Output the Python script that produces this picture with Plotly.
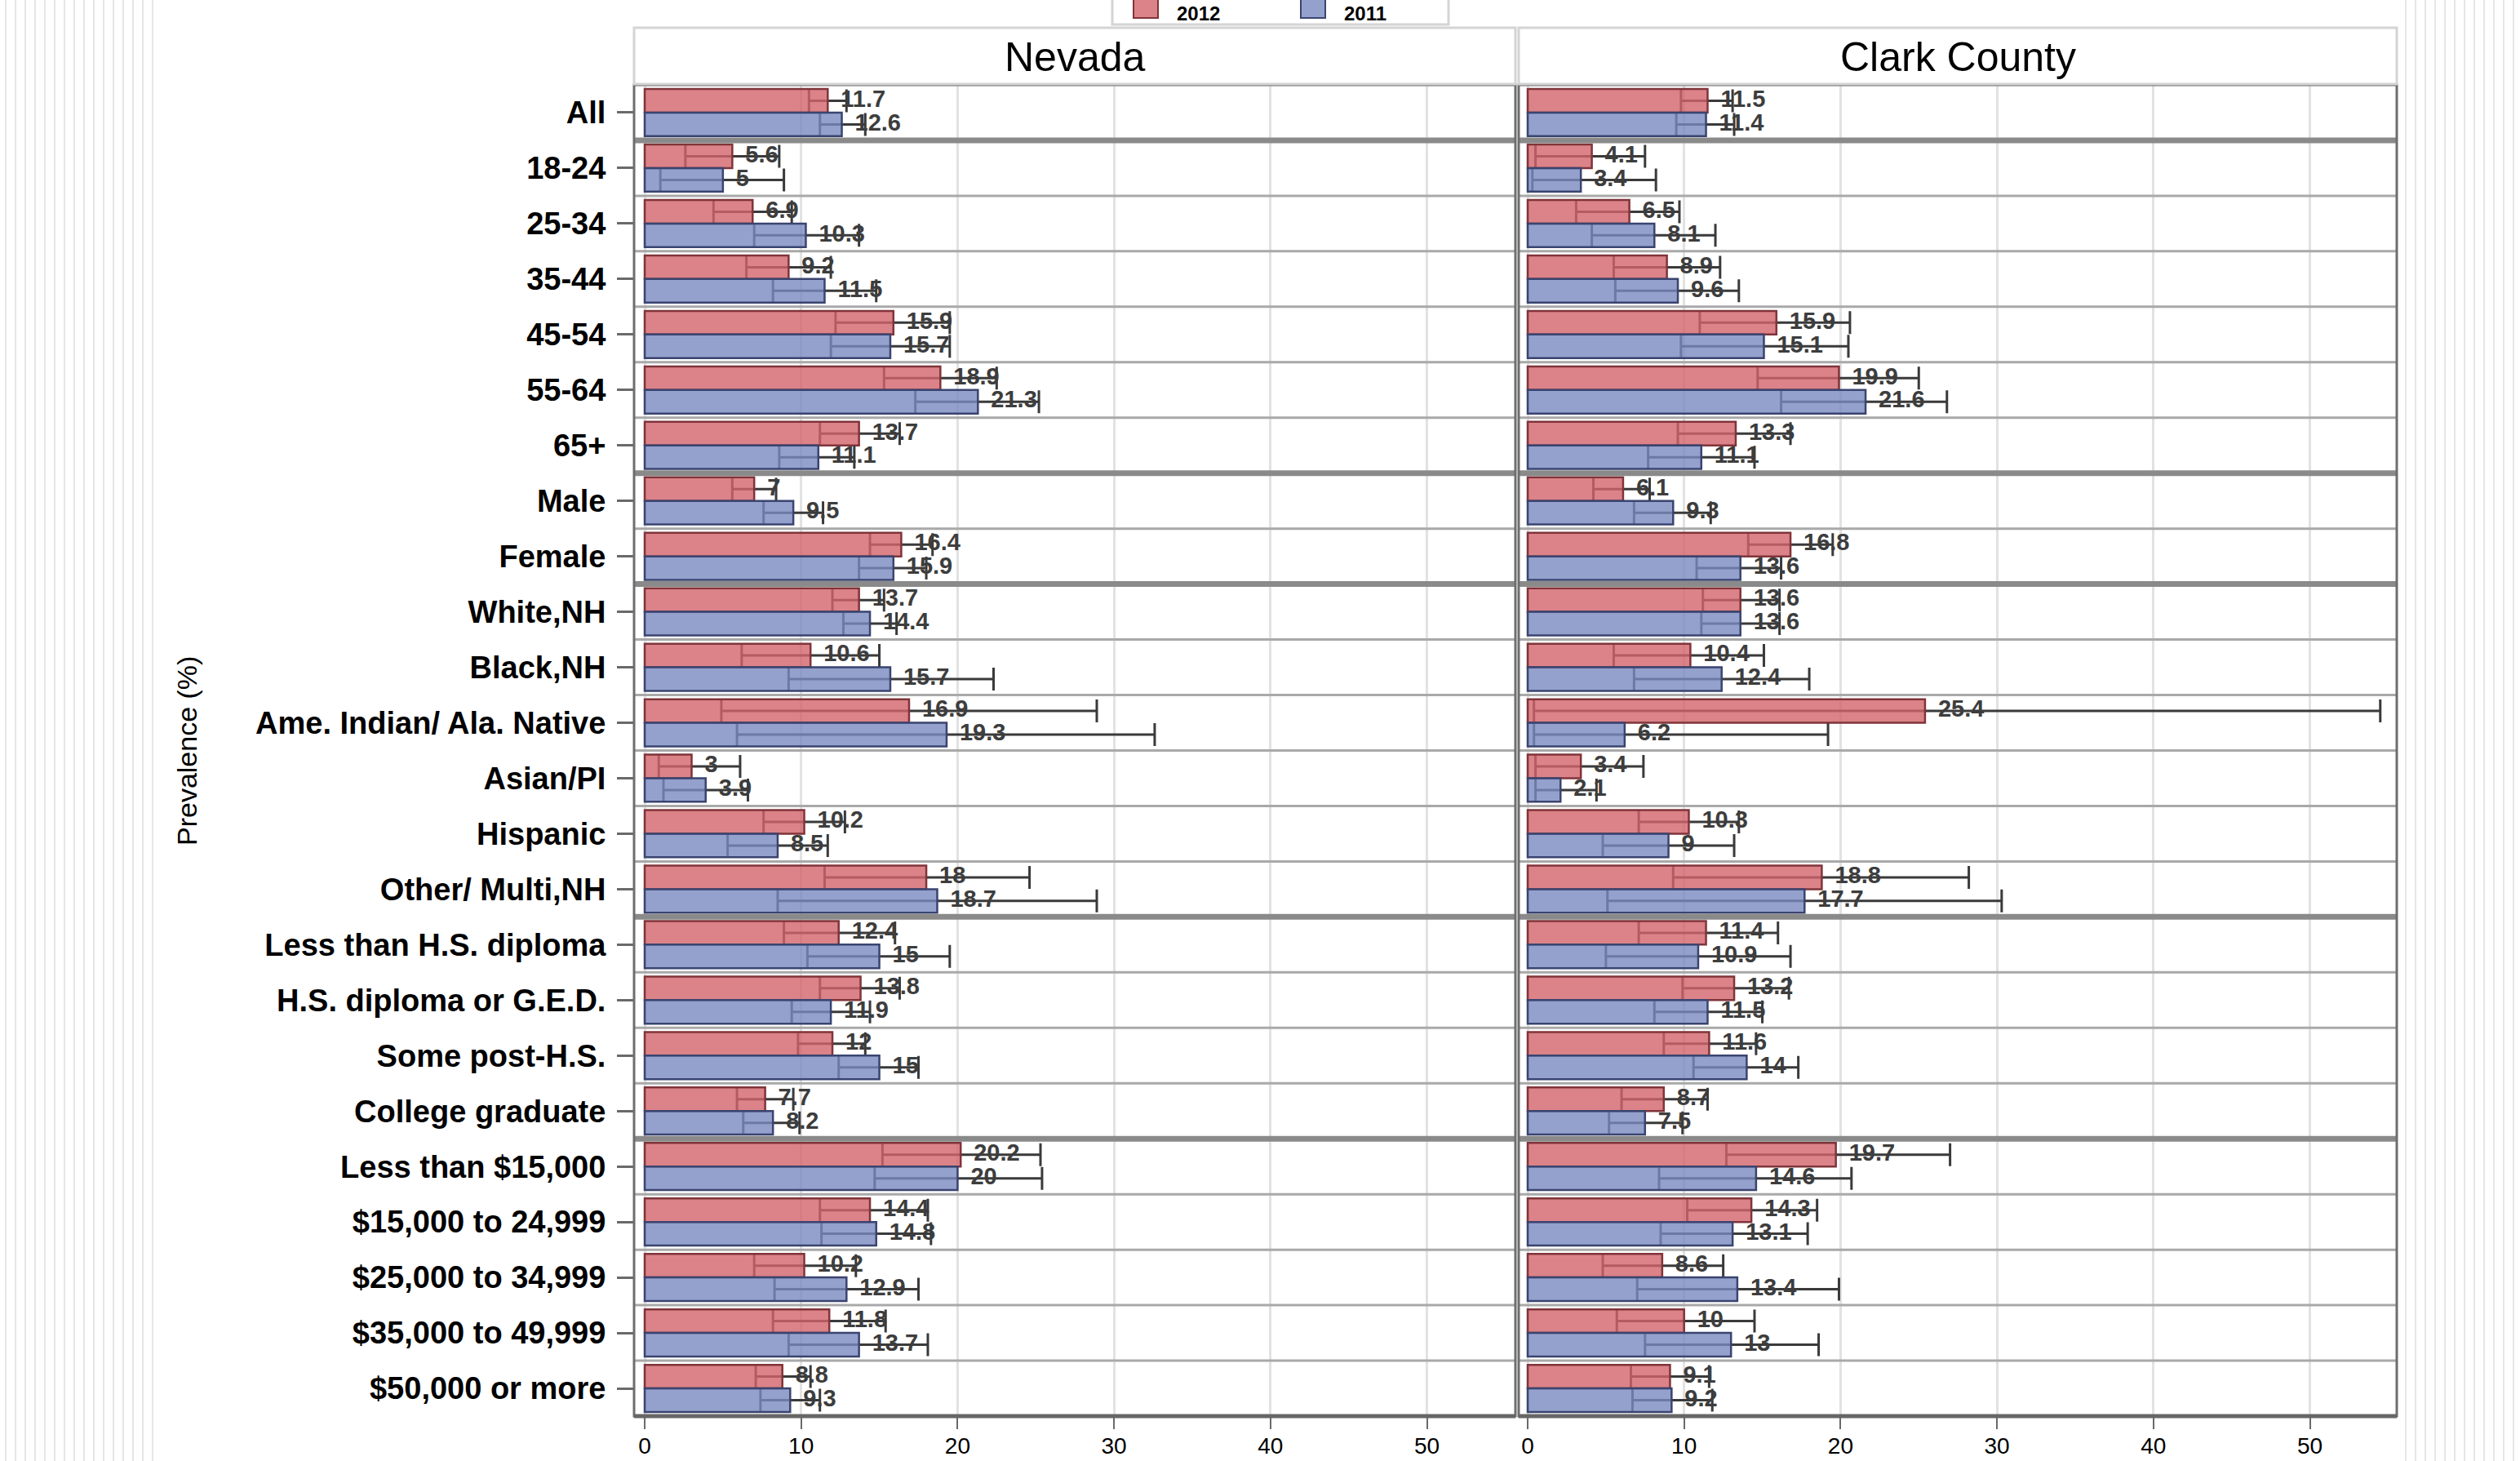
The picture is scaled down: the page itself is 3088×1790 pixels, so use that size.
import plotly.graph_objects as go

# ---------------------------------------------------------------- data
categories = [
    "All", "18-24", "25-34", "35-44", "45-54", "55-64", "65+",
    "Male", "Female",
    "White,NH", "Black,NH", "Ame. Indian/ Ala. Native", "Asian/PI",
    "Hispanic", "Other/ Multi,NH",
    "Less than H.S. diploma", "H.S. diploma or G.E.D.", "Some post-H.S.",
    "College graduate",
    "Less than $15,000", "$15,000 to 24,999", "$25,000 to 34,999",
    "$35,000 to 49,999", "$50,000 or more",
]
group_breaks = [0, 6, 8, 14, 18]          # last category index of each group
panels = ["Nevada", "Clark County"]
years = ["2012", "2011"]
x_ticks = [0, 10, 20, 30, 40, 50]

nv_2012 = [11.7, 5.6, 6.9, 9.2, 15.9, 18.9, 13.7, 7, 16.4, 13.7, 10.6, 16.9,
           3, 10.2, 18, 12.4, 13.8, 12, 7.7, 20.2, 14.4, 10.2, 11.8, 8.8]
nv_2012_lo = [10.5, 2.6, 4.4, 6.5, 12.2, 15.3, 11.2, 5.6, 14.4, 12.0, 6.2, 4.9,
              0.9, 7.6, 11.5, 8.9, 11.2, 9.8, 5.9, 15.2, 11.2, 7.0, 8.2, 7.1]
nv_2012_hi = [12.9, 8.6, 9.4, 11.9, 19.5, 22.5, 16.3, 8.4, 18.4, 15.3, 15.0, 28.9,
              6.1, 12.8, 24.6, 16.0, 16.3, 14.1, 9.5, 25.3, 18.1, 13.5, 15.4, 10.6]
nv_2011 = [12.6, 5, 10.3, 11.5, 15.7, 21.3, 11.1, 9.5, 15.9, 14.4, 15.7, 19.3,
           3.9, 8.5, 18.7, 15, 11.9, 15, 8.2, 20, 14.8, 12.9, 13.7, 9.3]
nv_2011_lo = [11.2, 1.0, 7.0, 8.2, 11.9, 17.3, 8.6, 7.6, 13.7, 12.7, 9.2, 5.9,
              1.2, 5.3, 8.5, 10.4, 9.4, 12.4, 6.3, 14.7, 11.3, 8.3, 9.2, 7.4]
nv_2011_hi = [14.1, 8.9, 13.7, 14.8, 19.5, 25.2, 13.4, 11.4, 18.0, 16.1, 22.3, 32.6,
              6.6, 11.7, 28.9, 19.5, 14.4, 17.5, 9.9, 25.4, 18.3, 17.5, 18.1, 11.2]

cc_2012 = [11.5, 4.1, 6.5, 8.9, 15.9, 19.9, 13.3, 6.1, 16.8, 13.6, 10.4, 25.4,
           3.4, 10.3, 18.8, 11.4, 13.2, 11.6, 8.7, 19.7, 14.3, 8.6, 10, 9.1]
cc_2012_lo = [9.8, 0.5, 3.1, 5.5, 11.0, 14.7, 9.6, 4.2, 14.1, 11.2, 5.5, 0.4,
              0.5, 7.1, 9.3, 7.1, 9.9, 8.7, 6.0, 12.7, 10.2, 4.8, 5.7, 6.6]
cc_2012_hi = [13.1, 7.5, 9.7, 12.3, 20.6, 25.0, 16.8, 7.8, 19.5, 16.1, 15.1, 54.5,
              7.4, 13.5, 28.2, 16.0, 16.7, 14.6, 11.5, 27.0, 18.5, 12.5, 14.5, 11.6]
cc_2011 = [11.4, 3.4, 8.1, 9.6, 15.1, 21.6, 11.1, 9.3, 13.6, 13.6, 12.4, 6.2,
           2.1, 9, 17.7, 10.9, 11.5, 14, 7.5, 14.6, 13.1, 13.4, 13, 9.2]
cc_2011_lo = [9.5, 0.3, 4.1, 5.6, 9.8, 16.2, 7.7, 6.8, 10.8, 11.1, 6.8, 0.4,
              0.5, 4.8, 5.1, 5.0, 8.1, 10.6, 5.2, 8.4, 8.5, 7.0, 7.5, 6.7]
cc_2011_hi = [13.2, 8.2, 12.0, 13.5, 20.5, 26.8, 14.5, 11.7, 16.2, 16.1, 18.0, 19.2,
              4.4, 13.2, 30.3, 16.8, 15.0, 17.3, 9.9, 20.7, 17.9, 19.9, 18.6, 11.8]

# ---------------------------------------------------------------- styling
W, H = 3088, 1790
FONT = "Liberation Sans, Arial, sans-serif"
FILL = {"2012": "rgba(210,100,106,0.80)", "2011": "rgba(122,138,192,0.80)"}
EDGE = {"2012": "rgb(128,52,58)", "2011": "rgb(58,68,112)"}
ERR = "#3a3a3a"
BAR_W = 0.425


def px(x):
    return x / W


def py(y):
    return 1 - y / H


# pixel frame of each panel: left, right, position of x = 0
frames = {"Nevada": (777, 1857, 790), "Clark County": (1861, 2937, 1872)}
PX_PER_UNIT = 19.17
TOP, BOTTOM = 104, 1735

series = {
    "Nevada": {"2012": (nv_2012, nv_2012_lo, nv_2012_hi),
               "2011": (nv_2011, nv_2011_lo, nv_2011_hi)},
    "Clark County": {"2012": (cc_2012, cc_2012_lo, cc_2012_hi),
                     "2011": (cc_2011, cc_2011_lo, cc_2011_hi)},
}

fig = go.Figure()
n = len(categories)
idx = list(range(n))

for k, panel in enumerate(panels):
    xa = "x" if k == 0 else "x2"
    ya = "y" if k == 0 else "y2"
    for year in years:
        vals, lo, hi = series[panel][year]
        shift = -BAR_W / 2 if year == "2012" else BAR_W / 2
        ypos = [i + shift for i in idx]
        # whiskers first, so the translucent bar drawn next sits over them
        fig.add_trace(go.Bar(
            x=vals, y=ypos, orientation="h", width=BAR_W,
            marker=dict(color="rgba(0,0,0,0)", line=dict(width=0)),
            error_x=dict(type="data", symmetric=False,
                         array=[h - v for v, h in zip(vals, hi)],
                         arrayminus=[v - l for v, l in zip(vals, lo)],
                         color=ERR, thickness=3, width=14),
            xaxis=xa, yaxis=ya, showlegend=False, hoverinfo="skip"))
        fig.add_trace(go.Bar(
            x=vals, y=ypos, orientation="h", width=BAR_W, name=year,
            marker=dict(color=FILL[year], line=dict(color=EDGE[year], width=2.5)),
            xaxis=xa, yaxis=ya, showlegend=False, hoverinfo="skip"))
        fig.add_trace(go.Scatter(
            x=vals, y=ypos, mode="markers+text",
            text=[f"{v:g}" for v in vals], textposition="middle right",
            textfont=dict(family=FONT, size=29, color="#3d3d3d", weight="bold"),
            marker=dict(size=24, color="rgba(0,0,0,0)"),
            xaxis=xa, yaxis=ya, showlegend=False, hoverinfo="skip"))

axis_common = dict(
    showgrid=True, gridcolor="#e2e2e2", gridwidth=3, zeroline=False,
    tickvals=x_ticks, ticks="outside", ticklen=15, tickwidth=2,
    tickcolor="#6a6a6a", showline=False,
    tickfont=dict(family=FONT, size=28, color="black"),
    ticklabelstandoff=-4,
)
layout_axes = {}
for k, panel in enumerate(panels):
    left, right, zero = frames[panel]
    rng = [(left - zero) / PX_PER_UNIT, (right - zero) / PX_PER_UNIT]
    key = "xaxis" if k == 0 else "xaxis2"
    layout_axes[key] = dict(axis_common, domain=[px(left), px(right)], range=rng,
                            anchor="y" if k == 0 else "y2")

layout_axes["yaxis"] = dict(
    domain=[py(BOTTOM), py(TOP)], range=[n - 0.5, -0.5], anchor="x",
    tickvals=idx, ticktext=categories, ticks="outside", ticklen=20,
    tickwidth=3, tickcolor="#6a6a6a", showgrid=False, zeroline=False,
    tickfont=dict(family=FONT, size=38, color="black", weight="bold"),
    ticklabelstandoff=6,
)
layout_axes["yaxis2"] = dict(
    domain=[py(BOTTOM), py(TOP)], range=[n - 0.5, -0.5], anchor="x2",
    showticklabels=False, ticks="", showgrid=False, zeroline=False,
)

shapes = []
# faint page stripes at the outer margins
for xs in list(range(7, 190, 12)) + list(range(2948, 3088, 12)):
    shapes.append(dict(type="line", xref="paper", yref="paper",
                       x0=px(xs), x1=px(xs), y0=0, y1=1,
                       line=dict(color="#e6e6e6", width=2), layer="below"))

for k, panel in enumerate(panels):
    xd = "x domain" if k == 0 else "x2 domain"
    yr = "y" if k == 0 else "y2"
    yd = "y domain" if k == 0 else "y2 domain"
    left, right, _ = frames[panel]
    # row separators: heavy between groups, light within
    for i in range(n - 1):
        heavy = i in group_breaks
        shapes.append(dict(type="line", xref=xd, yref=yr, x0=0, x1=1,
                           y0=i + 0.5, y1=i + 0.5,
                           line=dict(color="#8a8a8a" if heavy else "#a9a9a9",
                                     width=7 if heavy else 3)))
    # panel frame
    shapes.append(dict(type="rect", xref=xd, yref=yd, x0=0, x1=1, y0=0, y1=1,
                       line=dict(color="#6e6e6e", width=3)))
    shapes.append(dict(type="line", xref=xd, yref=yd, x0=0, x1=1, y0=0, y1=0,
                       line=dict(color="#666666", width=5)))
    # header strip
    shapes.append(dict(type="rect", xref="paper", yref="paper",
                       x0=px(left), x1=px(right), y0=py(TOP - 1), y1=py(34),
                       fillcolor="white", line=dict(color="#d4d4d4", width=3)))

# legend box (its upper edge runs past the top of the page)
shapes.append(dict(type="rect", xref="paper", yref="paper",
                   x0=px(1363), x1=px(1775), y0=py(30), y1=py(-40),
                   fillcolor="white", line=dict(color="#d4d4d4", width=3)))
for year, x0 in zip(years, [1389, 1594]):
    shapes.append(dict(type="rect", xref="paper", yref="paper",
                       x0=px(x0), x1=px(x0 + 30), y0=py(22), y1=py(-10),
                       fillcolor=FILL[year], line=dict(color=EDGE[year], width=2)))

annotations = []
for k, panel in enumerate(panels):
    left, right, _ = frames[panel]
    annotations.append(dict(text=panel, xref="paper", yref="paper",
                            x=px((left + right) / 2), y=py(70), showarrow=False,
                            xanchor="center", yanchor="middle",
                            font=dict(family=FONT, size=50, color="black")))
for year, x0 in zip(years, [1440, 1645]):
    annotations.append(dict(text=year, xref="paper", yref="paper",
                            x=px(x0), y=py(1), showarrow=False,
                            xanchor="left", yanchor="top",
                            font=dict(family=FONT, size=24, color="black",
                                      weight="bold")))
annotations.append(dict(text="Prevalence (%)", xref="paper", yref="paper",
                        x=px(229), y=py(920), showarrow=False, textangle=-90,
                        xanchor="center", yanchor="middle",
                        font=dict(family=FONT, size=34, color="black")))

fig.update_layout(
    width=W, height=H, barmode="overlay",
    margin=dict(l=0, r=0, t=0, b=0, autoexpand=False),
    paper_bgcolor="white", plot_bgcolor="white",
    shapes=shapes, annotations=annotations, showlegend=False,
    **layout_axes,
)

fig.write_html("out.html")
